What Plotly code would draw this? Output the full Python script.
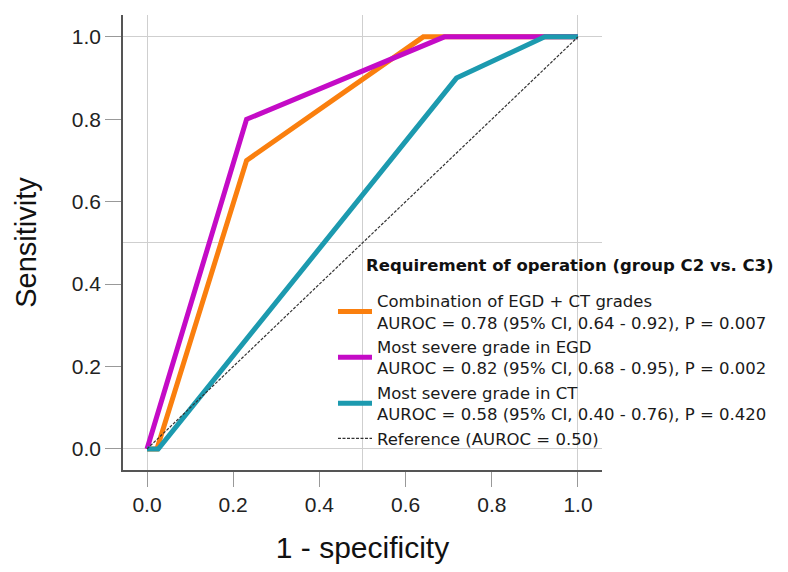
import plotly.graph_objects as go

# ROC curve points (1 - specificity, sensitivity)
combo_x = [0.0, 0.023, 0.231, 0.641, 1.0]
combo_y = [0.0, 0.0, 0.70, 1.0, 1.0]
egd_x = [0.0, 0.231, 0.69, 1.0]
egd_y = [0.0, 0.80, 1.0, 1.0]
ct_x = [0.0, 0.026, 0.718, 0.923, 1.0]
ct_y = [0.0, 0.0, 0.90, 1.0, 1.0]
ref_x = [0.0, 1.0]
ref_y = [0.0, 1.0]

names = [
    "Combination of EGD + CT grades<br>AUROC = 0.78 (95% CI, 0.64 - 0.92), P = 0.007",
    "Most severe grade in EGD<br>AUROC = 0.82 (95% CI, 0.68 - 0.95), P = 0.002",
    "Most severe grade in CT<br>AUROC = 0.58 (95% CI, 0.40 - 0.76), P = 0.420",
    "Reference (AUROC = 0.50)",
]
legend_title = "Requirement of operation (group C2 vs. C3)"
tick_vals = [0.0, 0.2, 0.4, 0.6, 0.8, 1.0]
tick_text = ["0.0", "0.2", "0.4", "0.6", "0.8", "1.0"]

colors = ["#FA7F0E", "#C40BC6", "#1C9AAF"]

fig = go.Figure()
for xs, ys, nm, c in zip([combo_x, egd_x, ct_x], [combo_y, egd_y, ct_y], names[:3], colors):
    fig.add_trace(go.Scatter(x=xs, y=ys, mode="lines", name=nm,
                             line=dict(color=c, width=5), xaxis="x", yaxis="y"))
fig.add_trace(go.Scatter(x=ref_x, y=ref_y, mode="lines", name=names[3],
                         line=dict(color="#333333", width=1.2, dash="3px,1.5px")))

xr = [-0.0557, 1.0557]
yr = [-0.051, 1.053]
tickfont = dict(family="Liberation Sans, Arial", size=21, color="#222222")

fig.update_layout(
    width=780, height=564,
    margin=dict(l=115, r=186, t=7, b=102, autoexpand=False),
    plot_bgcolor="white", paper_bgcolor="white",
    showlegend=True,
    legend=dict(x=0.4384, y=0.41, xanchor="left", yanchor="top",
                bgcolor="rgba(0,0,0,0)", borderwidth=0,
                font=dict(family="DejaVu Sans", size=16.5, color="#1A1A1A"),
                itemwidth=34, tracegroupgap=0),
    xaxis=dict(range=xr, tickvals=tick_vals, ticktext=tick_text, showgrid=False,
               zeroline=False, showline=True, linecolor="#555555", linewidth=1.5,
               ticks="outside", ticklen=15, tickcolor="#999999", tickwidth=1,
               tickfont=tickfont, automargin=False,
               title=dict(text="1 - specificity", standoff=22,
                          font=dict(family="Liberation Sans, Arial", size=30, color="#111111"))),
    yaxis=dict(range=yr, tickvals=tick_vals, ticktext=tick_text, showgrid=False,
               zeroline=False, showline=True, linecolor="#555555", linewidth=1.5,
               ticks="outside", ticklen=16, tickcolor="#999999", tickwidth=1,
               tickfont=tickfont, automargin=False,
               title=dict(text="Sensitivity", standoff=27,
                          font=dict(family="Liberation Sans, Arial", size=29, color="#111111"))),
    xaxis2=dict(range=xr, overlaying="x", dtick=0.5, tick0=0, showgrid=True,
                gridcolor="#CFCFCF", gridwidth=1, showticklabels=False, ticks="",
                zeroline=False, showline=False),
    yaxis2=dict(range=yr, overlaying="y", dtick=0.5, tick0=0, showgrid=True,
                gridcolor="#CFCFCF", gridwidth=1, showticklabels=False, ticks="",
                zeroline=False, showline=False),
    annotations=[dict(text="<b>" + legend_title + "</b>", xref="paper", yref="paper",
                      x=0.503, y=0.4484, xanchor="left", yanchor="middle",
                      showarrow=False,
                      font=dict(family="DejaVu Sans", size=16.5, color="#111111"))],
)
# dummy trace to activate grid axes
fig.add_trace(go.Scatter(x=[None], y=[None], xaxis="x2", yaxis="y2", showlegend=False, hoverinfo="skip"))

fig.write_html("out.html")
